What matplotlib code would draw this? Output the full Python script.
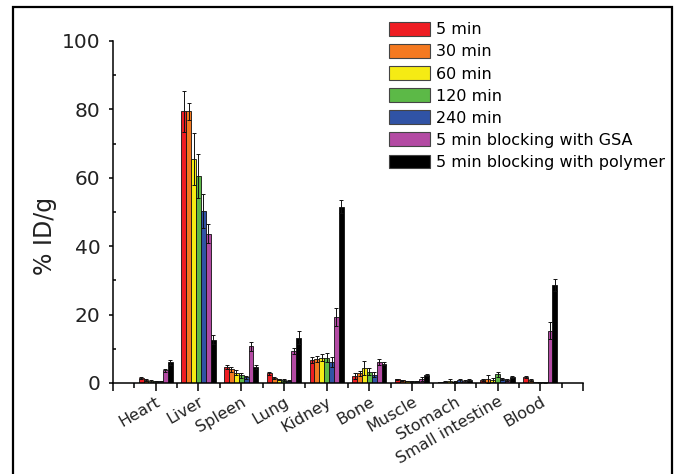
import numpy as np
import matplotlib
matplotlib.use("Agg")
import matplotlib.pyplot as plt
from matplotlib.patches import Rectangle, Patch
from matplotlib.ticker import MultipleLocator, FixedLocator
import matplotlib.transforms as mtransforms

plt.rcParams['font.family'] = ['DejaVu Sans']

categories = ['Heart', 'Liver', 'Spleen', 'Lung', 'Kidney', 'Bone', 'Muscle',
              'Stomach', 'Small intestine', 'Blood']
series_names = ['5 min', '30 min', '60 min', '120 min', '240 min',
                '5 min blocking with GSA', '5 min blocking with polymer']

m5 = [1.4, 79.5, 4.8, 2.8, 6.7, 2.1, 1.1, 0.3, 0.9, 1.8]
m30 = [1.0, 79.5, 4.0, 1.4, 7.1, 2.8, 0.8, 0.4, 1.2, 1.0]
m60 = [0.6, 65.5, 3.0, 1.1, 7.4, 4.3, 0.6, 0.5, 1.0, 0.3]
m120 = [0.5, 60.5, 2.2, 0.9, 7.4, 3.3, 0.5, 0.3, 2.5, 0.2]
m240 = [0.5, 50.3, 1.7, 0.7, 6.2, 2.4, 0.5, 0.8, 1.2, 0.2]
gsa = [3.7, 43.6, 10.7, 9.4, 19.2, 6.2, 1.3, 0.6, 0.8, 15.3]
poly = [6.0, 12.7, 4.6, 13.3, 51.6, 5.7, 2.4, 0.9, 1.7, 28.6]

e5 = [0.3, 6.0, 0.6, 0.4, 0.8, 0.8, 0.2, 0.1, 0.3, 0.3]
e30 = [0.3, 2.5, 0.8, 0.3, 0.9, 0.8, 0.2, 0.2, 1.1, 0.3]
e60 = [0.2, 7.5, 0.8, 0.2, 1.0, 2.0, 0.1, 0.7, 0.6, 0.1]
e120 = [0.2, 6.5, 0.6, 0.2, 1.3, 1.0, 0.1, 0.2, 0.8, 0.1]
e240 = [0.2, 5.0, 0.4, 0.2, 1.5, 0.7, 0.1, 0.5, 0.4, 0.1]
egsa = [0.5, 2.8, 1.4, 0.8, 2.6, 0.8, 0.6, 0.3, 0.3, 2.4]
epoly = [0.8, 1.2, 0.6, 2.0, 1.8, 0.5, 0.3, 0.3, 0.3, 1.7]

values = [m5, m30, m60, m120, m240, gsa, poly]
errors = [e5, e30, e60, e120, e240, egsa, epoly]
colors = ['#EE1D23', '#F47920', '#F5EB14', '#5CB947', '#3053A5', '#B34AA3', '#000000']

fig = plt.figure(figsize=(6.83, 4.74), dpi=100)
ax = fig.add_axes([113/683, 1-383/474, 470/683, 342/474])

x = np.arange(1, len(categories) + 1)
n = len(values)
w = 0.8 / n
for i, (v, e, c) in enumerate(zip(values, errors, colors)):
    pos = x + (i - (n - 1) / 2) * w
    ax.bar(pos, v, width=w, color=c, edgecolor='#111111', linewidth=0.6, zorder=2)
    ax.errorbar(pos, v, yerr=e, fmt='none', ecolor='#111111', elinewidth=0.7,
                capsize=1.6, capthick=0.7, zorder=3)

ax.set_xlim(0, 11)
ax.set_ylim(0, 100)
for s in ['top', 'right']:
    ax.spines[s].set_visible(False)
for s in ['left', 'bottom']:
    ax.spines[s].set_linewidth(1.1)

ax.xaxis.set_major_locator(FixedLocator(np.arange(0, 12)))
ax.xaxis.set_minor_locator(FixedLocator(np.arange(0.5, 11, 1)))
ax.set_xticklabels([''] + categories + [''], rotation=30, ha='right',
                   rotation_mode='anchor', fontsize=11.5, color='#222222')
offset = mtransforms.ScaledTranslation(4/100, 0, fig.dpi_scale_trans)
for lab in ax.get_xticklabels():
    lab.set_transform(lab.get_transform() + offset)
ax.tick_params(axis='x', which='major', direction='out', length=6, width=1.1, pad=2)
ax.tick_params(axis='x', which='minor', direction='out', length=3.5, width=1.1)

ax.yaxis.set_major_locator(MultipleLocator(20))
ax.yaxis.set_minor_locator(MultipleLocator(10))
ax.tick_params(axis='y', which='major', direction='out', length=3, width=1.1,
               labelsize=14.5, pad=6, labelcolor='#222222')
ax.tick_params(axis='y', which='minor', direction='in', length=2.5, width=1.1)

ax.set_ylabel('% ID/g', fontsize=17, color='#222222')
ax.yaxis.set_label_coords(-0.12, 0.43)

handles = [Patch(facecolor=c, edgecolor='#444444', linewidth=0.8) for c in colors]
fig.legend(handles, series_names, loc='upper left',
           bbox_to_anchor=(389/683, 1 - 22/474), frameon=False,
           fontsize=11.5, handlelength=2.55, handleheight=0.95,
           handletextpad=0.4, labelspacing=0.42, borderpad=0, borderaxespad=0)

fig.patches.append(Rectangle((13/683, -0.05), (672-13)/683, 1 - 7/474 + 0.05,
                             transform=fig.transFigure, fill=False,
                             edgecolor='black', linewidth=1.6))

fig.savefig('out.png', dpi=100)
